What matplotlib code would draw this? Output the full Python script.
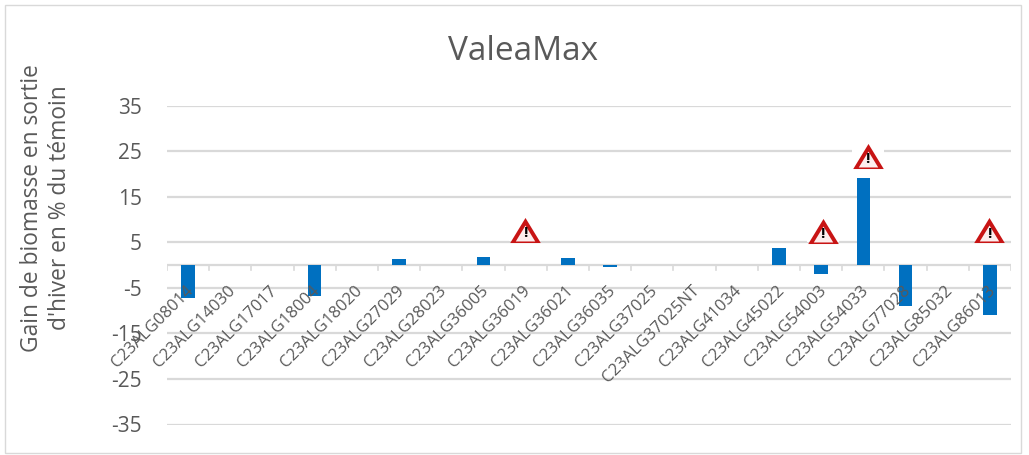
import matplotlib
matplotlib.use('Agg')
import matplotlib.pyplot as plt
from matplotlib.patches import Rectangle

plt.rcParams['font.family'] = ['Open Sans', 'DejaVu Sans']
plt.rcParams['axes.unicode_minus'] = False

# Data
categories = ['C23ALG08014', 'C23ALG14030', 'C23ALG17017', 'C23ALG18004', 'C23ALG18020',
              'C23ALG27029', 'C23ALG28023', 'C23ALG36005', 'C23ALG36019', 'C23ALG36021',
              'C23ALG36035', 'C23ALG37025', 'C23ALG37025NT', 'C23ALG41034', 'C23ALG45022',
              'C23ALG54003', 'C23ALG54033', 'C23ALG77028', 'C23ALG85032', 'C23ALG86013']
values = [-7.3, 0, 0, -6.7, 0, 1.4, 0, 1.8, 0, 1.6, -0.5, 0, 0, 0, 3.8, -1.9, 19, -8.9, 0, -10.9]
y_ticks = [-35, -25, -15, -5, 5, 15, 25, 35]
warning_x = [7.98, 15.04, 16.1, 18.98]
warning_y = [7.65, 7.4, 23.9, 7.6]

W, H = 1029, 455
fig = plt.figure(figsize=(W / 100, H / 100), dpi=100, facecolor='white')

# chart frame
fig.add_artist(Rectangle((5 / W, 1 - 453 / H), 1016 / W, 448 / H, transform=fig.transFigure,
                         facecolor='white', edgecolor='#d9d9d9', linewidth=1, zorder=-1))

ax = fig.add_axes([167 / W, 1 - 424.5 / H, 844 / W, 319 / H])
ax.patch.set_alpha(0)
x = list(range(len(categories)))
ax.bar(x, values, width=0.32, color='#0070c0', zorder=3)
ax.set_xlim(-0.5, len(categories) - 0.5)
ax.set_ylim(-35, 35)
ax.set_yticks(y_ticks)
ax.yaxis.grid(True, color='#d9d9d9', linewidth=1.6, zorder=0)
ax.set_axisbelow(True)
for s in ['top', 'right', 'left', 'bottom']:
    ax.spines[s].set_visible(False)
ax.tick_params(axis='y', length=0, labelsize=15, labelcolor='#595959', pad=18)

# x axis line and ticks crossing at zero
ax.axhline(0, color='#d9d9d9', linewidth=1.6, zorder=2)
for b in range(len(categories) + 1):
    ax.plot([b - 0.5, b - 0.5], [0, -1.1], color='#d9d9d9', linewidth=1.2, zorder=2)

ax.set_xticks([])
for i, name in enumerate(categories):
    ax.annotate(name, xy=(i, 0), xytext=(-3, -18), textcoords='offset pixels',
                rotation=45, rotation_mode='anchor', ha='right', va='top',
                fontsize=12, color='#595959', zorder=5, annotation_clip=False)

# warning signs, with the white box that cuts the gridline behind them
box = [(-1, -0.7), (1, -0.7), (1, 0.7), (-1, 0.7)]
tri = [(-1, -0.82), (0, 0.82), (1, -0.82)]
for c, v in zip(warning_x, warning_y):
    ax.plot(c, v, marker=box, markersize=23, color='white', markeredgewidth=0, zorder=3)
    ax.plot(c, v, marker=tri, markersize=22, color='#c81414', markeredgewidth=0, zorder=4)
    ax.plot(c, v - 0.6, marker=tri, markersize=14, color='#fdeeee', markeredgewidth=0, zorder=4)
    ax.text(c, v - 0.7, '!', fontsize=11, fontweight='bold', color='black', ha='center', va='center', zorder=5)

fig.text(523 / W, 1 - 52 / H, 'ValeaMax', fontsize=24, color='#595959', ha='center', va='center')
fig.text(46 / W, 1 - 208 / H, "Gain de biomasse en sortie\nd'hiver en % du témoin", fontsize=16.4, color='#595959',
         rotation=90, ha='center', va='center', multialignment='center', linespacing=1.18)

fig.savefig('out.png', dpi=100)
